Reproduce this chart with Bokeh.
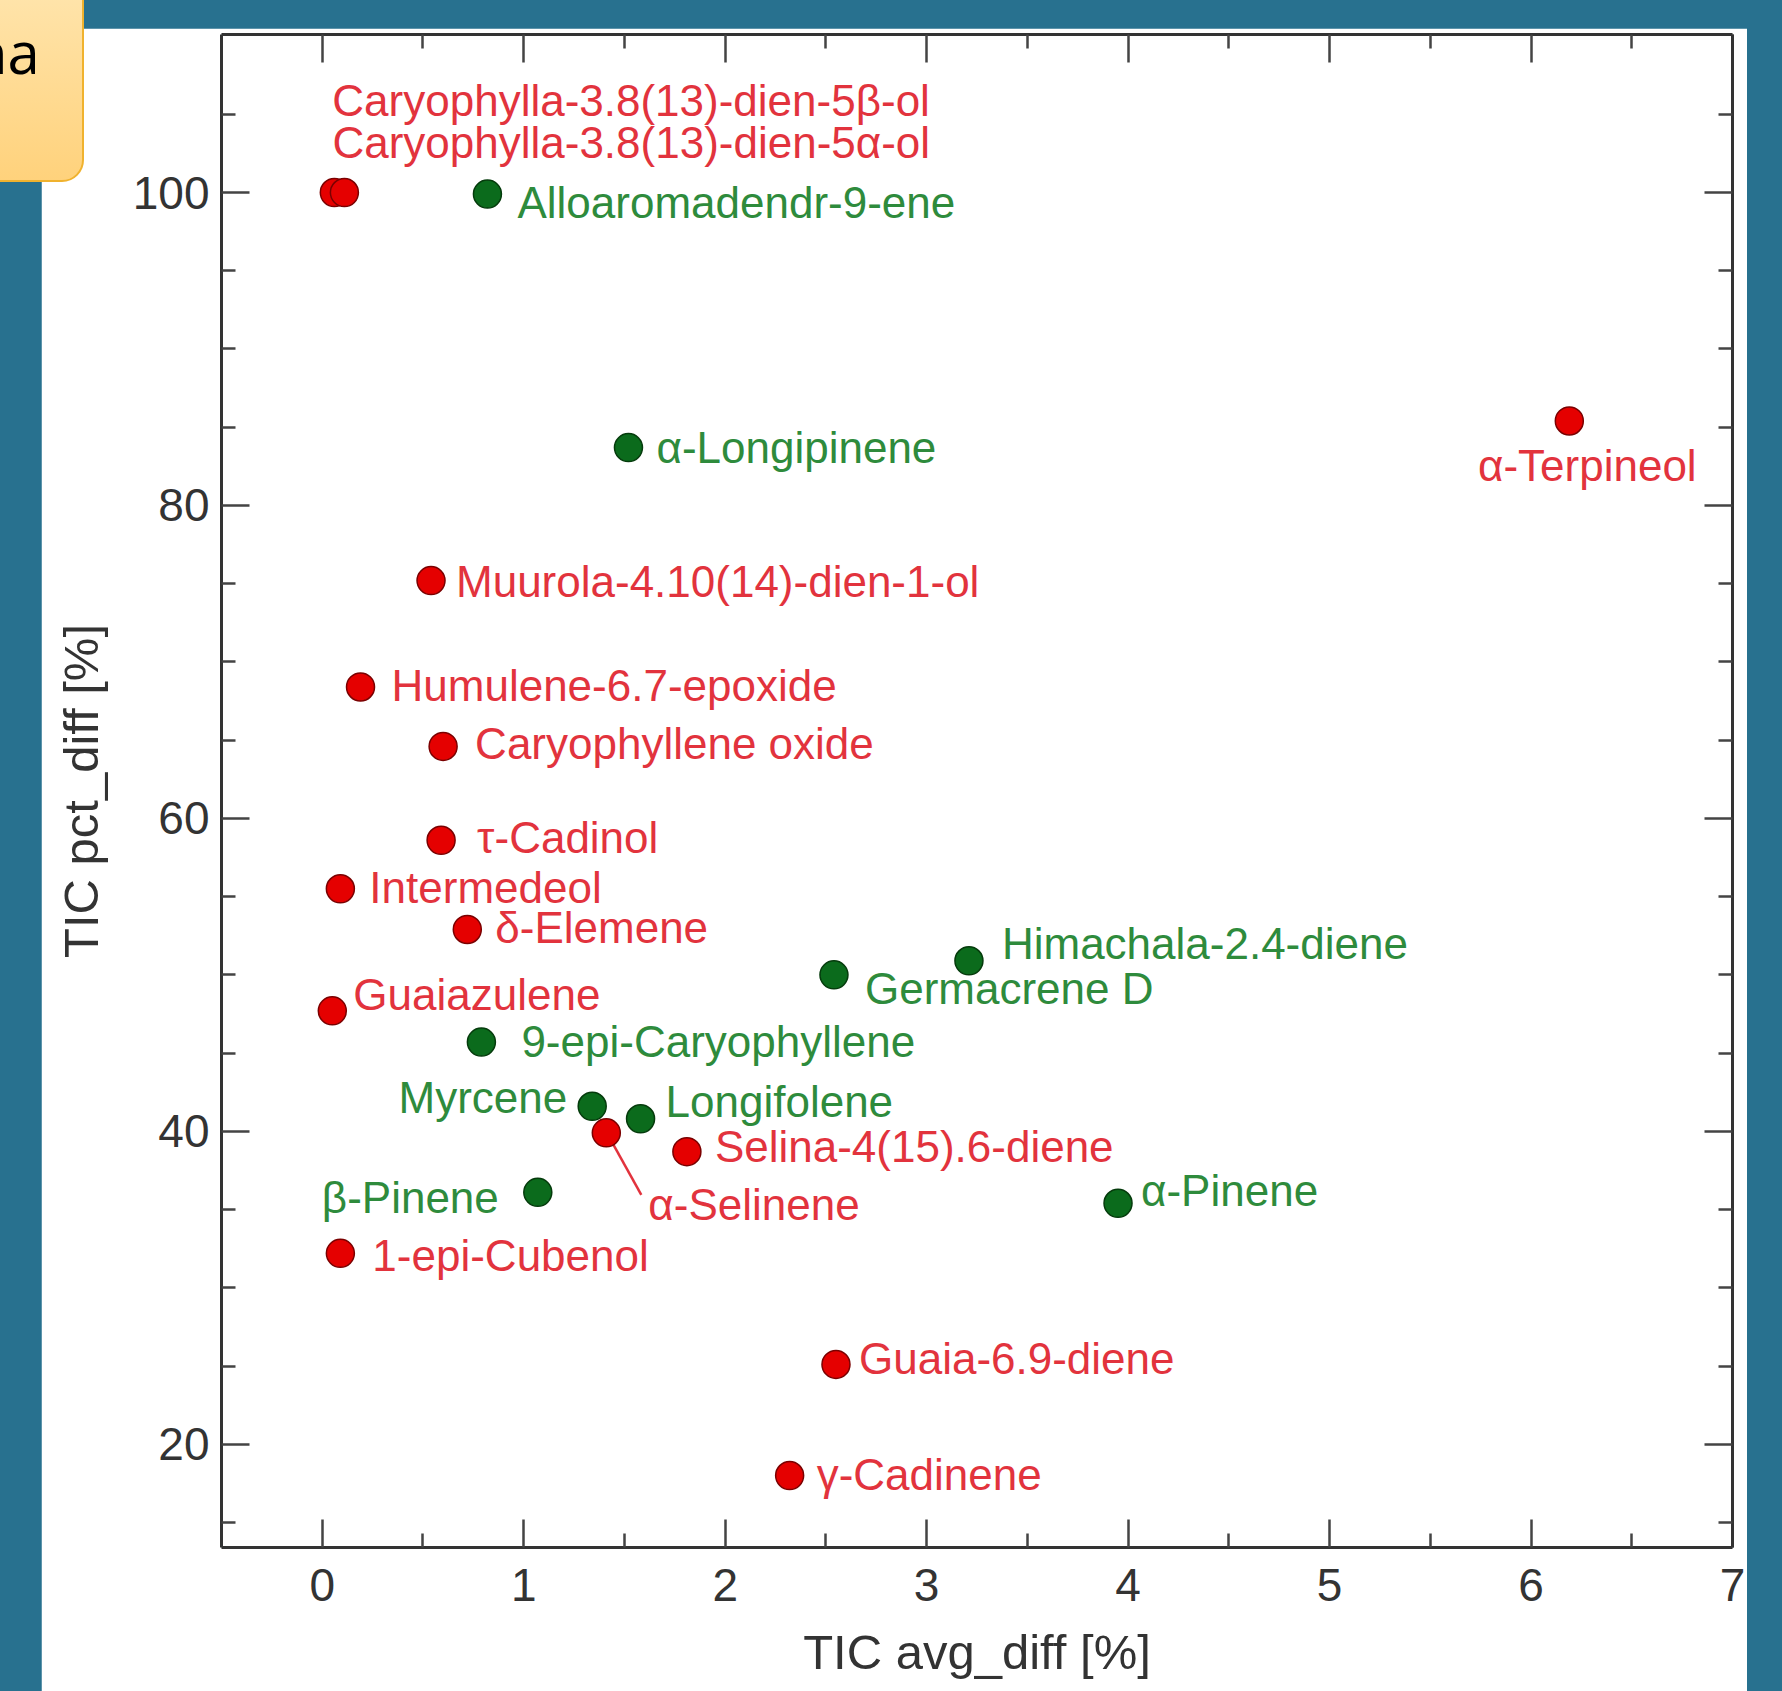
from bokeh.plotting import figure
from bokeh.models import ColumnDataSource, FixedTicker, LinearAxis, Range1d, Div
from bokeh.embed import file_html
from bokeh.resources import INLINE
from bokeh.core.properties import value

# ---------------- data ----------------
compounds = [
    "Caryophylla-3.8(13)-dien-5β-ol",
    "Caryophylla-3.8(13)-dien-5α-ol",
    "Alloaromadendr-9-ene",
    "α-Longipinene",
    "α-Terpineol",
    "Muurola-4.10(14)-dien-1-ol",
    "Humulene-6.7-epoxide",
    "Caryophyllene oxide",
    "τ-Cadinol",
    "Intermedeol",
    "δ-Elemene",
    "Guaiazulene",
    "Himachala-2.4-diene",
    "Germacrene D",
    "9-epi-Caryophyllene",
    "Myrcene",
    "Longifolene",
    "α-Selinene",
    "Selina-4(15).6-diene",
    "β-Pinene",
    "α-Pinene",
    "1-epi-Cubenol",
    "Guaia-6.9-diene",
    "γ-Cadinene",
]
avg_diff = [0.06, 0.11, 0.82, 1.52, 6.19, 0.54, 0.19, 0.60, 0.59, 0.09, 0.72, 0.05,
            3.21, 2.54, 0.79, 1.34, 1.58, 1.41, 1.81, 1.07, 3.95, 0.09, 2.55, 2.32]
pct_diff = [100.0, 100.0, 99.9, 83.7, 85.4, 75.2, 68.4, 64.6, 58.6, 55.5, 52.9, 47.7,
            50.9, 50.0, 45.7, 41.6, 40.8, 39.9, 38.7, 36.1, 35.4, 32.2, 25.1, 18.0]
group = ["A", "A", "B", "B", "A", "A", "A", "A", "A", "A", "A", "A",
         "B", "B", "B", "B", "B", "A", "A", "B", "B", "A", "A", "A"]

x_ticks = [0, 1, 2, 3, 4, 5, 6, 7]
x_minor = [0.5, 1.5, 2.5, 3.5, 4.5, 5.5, 6.5]
y_ticks = [20, 40, 60, 80, 100]
y_minor = [15, 25, 30, 35, 45, 50, 55, 65, 70, 75, 85, 90, 95, 105]

x_title = "TIC avg_diff [%]"
y_title = "TIC pct_diff [%]"
corner_text = "na"

# ---------------- label placement (screen px, style only) ----------------
label_dx = [-2, -12, 30, 28, 18, 25, 31, 32, 36, 29, 28, 21,
            33, 31, 40, -25, 25, 42, 28, -39, 23, 32, 23, 27]
label_dy = [-92, -50, 8, 0, 45, 1, -1, -3, -3, -1, -2, -16,
            -17, 14, -1, -9, -17, 72, -5, 5, -13, 2, -6, -1]
label_align = ["left", "left", "left", "left", "center", "left", "left", "left", "left", "left", "left", "left",
               "left", "left", "left", "right", "left", "left", "left", "right", "left", "left", "left", "left"]

# ---------------- styles ----------------
TEAL = "#28718F"
FILL = {"A": "#E50000", "B": "#0B6B1C"}
EDGE = {"A": "#7A0000", "B": "#053B0C"}
TEXT = {"A": "#E2333D", "B": "#2E8B3C"}
AXIS = "#333333"
FONT = "Liberation Sans"

PAGE_W, PAGE_H = 1782, 1691
PANEL_L, PANEL_T, PANEL_R = 41, 28, 1747          # white slide panel
FRAME_L, FRAME_T, FW, FH = 221, 34, 1511, 1513     # plot frame (page px)
PW, PH = PANEL_R - PANEL_L, PAGE_H - PANEL_T
X0, X1 = -0.5, 7.0
Y0, Y1 = 13.4, 110.1
PXX = FW / (X1 - X0)
PXY = FH / (Y1 - Y0)

p = figure(frame_width=FW, frame_height=FH,
           min_border_left=FRAME_L - PANEL_L, min_border_top=FRAME_T - PANEL_T,
           min_border_right=PW - (FRAME_L - PANEL_L) - FW,
           min_border_bottom=PH - (FRAME_T - PANEL_T) - FH,
           x_range=Range1d(X0, X1), y_range=Range1d(Y0, Y1),
           output_backend="svg", toolbar_location=None)
p.border_fill_color = "white"
p.background_fill_color = "white"
p.outline_line_color = None
p.grid.visible = False
p.styles = {"position": "absolute", "left": f"{PANEL_L}px", "top": f"{PANEL_T}px",
            "margin": "0px", "z-index": "1"}

bottom_axis = p.below[0]
left_axis = p.left[0]
top_axis = LinearAxis()
right_axis = LinearAxis()
p.add_layout(top_axis, "above")
p.add_layout(right_axis, "right")

for ax in [bottom_axis, top_axis]:
    ax.ticker = FixedTicker(ticks=x_ticks, minor_ticks=x_minor)
for ax in [left_axis, right_axis]:
    ax.ticker = FixedTicker(ticks=y_ticks, minor_ticks=y_minor)

for ax in [bottom_axis, left_axis, top_axis, right_axis]:
    ax.axis_line_color = AXIS
    ax.axis_line_width = 3
    ax.major_tick_in = 28
    ax.major_tick_out = 0
    ax.minor_tick_in = 14
    ax.minor_tick_out = 0
    ax.major_tick_line_color = "#444444"
    ax.minor_tick_line_color = "#444444"
    ax.major_tick_line_width = 2.5
    ax.minor_tick_line_width = 2.5
    ax.major_label_text_font = FONT
    ax.major_label_text_color = AXIS
    ax.axis_label_text_font = FONT
    ax.axis_label_text_font_style = "normal"
    ax.axis_label_text_color = AXIS

top_axis.major_label_overrides = {t: "" for t in x_ticks}
right_axis.major_label_overrides = {t: "" for t in y_ticks}
for ax in [top_axis, right_axis]:
    ax.major_label_text_font_size = "0px"
    ax.major_label_standoff = 0

bottom_axis.axis_label = x_title
bottom_axis.major_label_text_font_size = "46px"
bottom_axis.axis_label_text_font_size = "49px"
bottom_axis.major_label_standoff = 21
bottom_axis.axis_label_standoff = 21

left_axis.axis_label = y_title
left_axis.major_label_text_font_size = "46px"
left_axis.axis_label_text_font_size = "49px"
left_axis.major_label_standoff = 12
left_axis.axis_label_standoff = 22

# leader line for α-Selinene
i_sel = compounds.index("α-Selinene")
p.segment(x0=[avg_diff[i_sel] + 5 / PXX], y0=[pct_diff[i_sel] - 8 / PXY],
          x1=[avg_diff[i_sel] + 35 / PXX], y1=[pct_diff[i_sel] - 62 / PXY],
          line_color=TEXT["A"], line_width=2.5)

# markers (green first, red on top)
for g in ["B", "A"]:
    idx = [i for i, gg in enumerate(group) if gg == g]
    src = ColumnDataSource(dict(x=[avg_diff[i] for i in idx], y=[pct_diff[i] for i in idx]))
    p.scatter(x="x", y="y", marker="circle", size=28, fill_color=FILL[g],
              line_color=EDGE[g], line_width=1.5, source=src)

# labels
for align in ["left", "right", "center"]:
    idx = [i for i, a in enumerate(label_align) if a == align]
    if not idx:
        continue
    src = ColumnDataSource(dict(
        x=[avg_diff[i] for i in idx], y=[pct_diff[i] for i in idx],
        text=[compounds[i] for i in idx],
        dx=[label_dx[i] for i in idx], dy=[label_dy[i] for i in idx],
        color=[TEXT[group[i]] for i in idx]))
    p.text(x="x", y="y", text="text", x_offset="dx", y_offset="dy",
           text_align=align, text_baseline="middle", text_color="color",
           text_font=value(FONT), text_font_size="44px", source=src)

# slide background
bg = Div(text="", width=PAGE_W, height=PAGE_H, margin=0,
         styles={"position": "absolute", "left": "0px", "top": "0px", "margin": "0px",
                 "background-color": TEAL, "z-index": "0"})

# orange callout box at top-left (partly off-page like the slide)
callout = Div(text=f'<span style="position:absolute; left:0px; top:51px; line-height:1; '
                   f'font-family:\'Open Sans\'; font-size:58px; color:#000000;">{corner_text}</span>',
              width=114, height=212, margin=0,
              styles={"position": "absolute", "left": "-30px", "top": "-30px", "margin": "0px",
                      "background": "linear-gradient(to bottom, #FFE6B0, #FFD27C)",
                      "border": "2px solid #F0B22E", "border-radius": "22px",
                      "box-sizing": "border-box", "z-index": "2", "overflow": "hidden"})

open("out.html", "w").write(file_html([bg, p, callout], INLINE))
